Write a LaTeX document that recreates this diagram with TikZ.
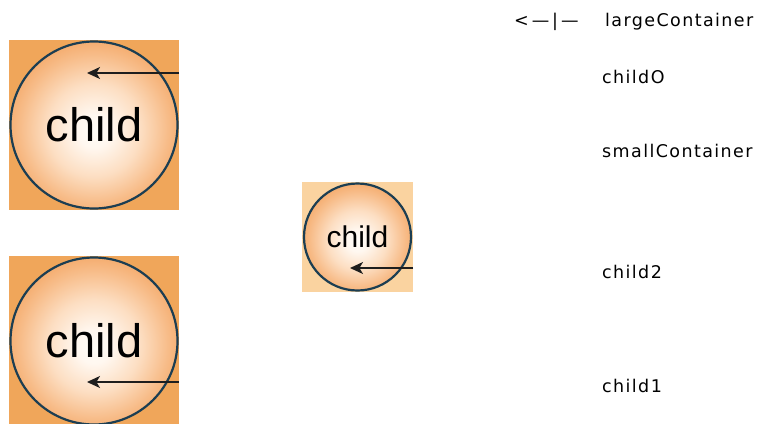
\documentclass[tikz,border=0pt]{standalone}
\usepackage{fontspec}
\setmainfont{Liberation Sans}
\newfontfamily\lblfont[LetterSpace=8]{DejaVu Sans}
\usetikzlibrary{arrows.meta}
\definecolor{bigbg}{RGB}{240,166,90}
\definecolor{smallbg}{RGB}{250,211,160}
\definecolor{ringc}{RGB}{28,62,82}
\definecolor{arrc}{RGB}{30,30,30}
\pgfdeclareradialshading{ballshade}{\pgfpoint{0bp}{-2bp}}{%
  rgb(0bp)=(1,0.99,0.97);
  rgb(5bp)=(1,0.97,0.94);
  rgb(14bp)=(0.99,0.87,0.76);
  rgb(22bp)=(0.97,0.74,0.54);
  rgb(26bp)=(0.96,0.68,0.44);
  rgb(50bp)=(0.96,0.68,0.44)}
\tikzset{
  bigsq/.style={rectangle, fill=bigbg, draw=none, minimum width=170, minimum height=170, inner sep=0},
  smallsq/.style={rectangle, fill=smallbg, draw=none, minimum width=111, minimum height=110, inner sep=0},
  ball/.style={circle, draw=ringc, line width=2.2, shading=ballshade, inner sep=0},
  bigball/.style={ball, minimum size=167, font=\fontsize{47}{47}\selectfont},
  smallball/.style={ball, minimum size=107, font=\fontsize{30}{30}\selectfont},
  arr/.style={draw=arrc, line width=1.3, -{Stealth[length=13, width=12, inset=3.5]}},
  lbl/.style={anchor=base west, inner sep=0, font=\fontsize{17.5}{17.5}\lblfont, text=black}
}
\begin{document}
\begin{tikzpicture}[x=1pt,y=-1pt]
\useasboundingbox (0,0) rectangle (757,423);
\clip (0,0) rectangle (757,423);
% container squares
\node[bigsq] (sq1) at (94,125) {};
\node[bigsq] (sq2) at (94,341) {};
\node[smallsq] (sq3) at (357.5,237) {};
% balls
\node[bigball] (b1) at (94,125) {child};
\node[bigball] (b2) at (94,341) {child};
\node[smallball] (b3) at (357.5,237) {child};
% arrows
\coordinate (t1) at (87,73);
\coordinate (t2) at (87,382);
\coordinate (t3) at (350,268);
\draw[arr] (sq1.east |- t1) -- (t1);
\draw[arr] (sq2.east |- t2) -- (t2);
\draw[arr] (sq3.east |- t3) -- (t3);
% labels
\node[lbl] (l0) at (514,27) {\makebox[91pt][l]{<\,—\,|\,—}largeContainer};
\node[lbl] (l1) at (602,83) {childO};
\node[lbl] (l2) at (602,157) {smallContainer};
\node[lbl] (l3) at (602,278) {child2};
\node[lbl] (l4) at (602,392) {child1};
\end{tikzpicture}
\end{document}
